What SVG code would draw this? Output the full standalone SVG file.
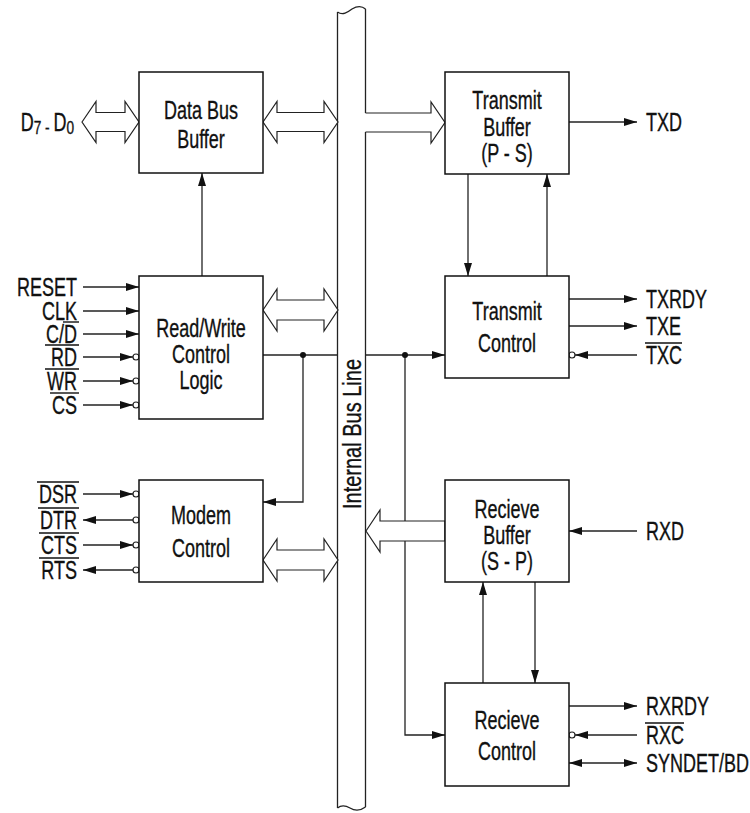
<svg xmlns="http://www.w3.org/2000/svg" width="750" height="813" viewBox="0 0 750 813">
<style>
.box{fill:#fff;stroke:#111;stroke-width:1.5}
.t{font-family:"Liberation Sans",Arial,sans-serif;font-size:25px;fill:#111;stroke:#111;stroke-width:0.35}
.m{text-anchor:middle}
.e{text-anchor:end}
.c{fill:none;stroke:#222;stroke-width:1.3}
.ol{stroke:#111;stroke-width:1.4}
.bub{fill:#fff;stroke:#222;stroke-width:1.2}
.big{fill:#fff;stroke:#222;stroke-width:1.2;stroke-linejoin:miter}
.dot{fill:#111}
</style>
<defs>
<marker id="ah" viewBox="0 0 13 8" refX="13" refY="4" markerWidth="13" markerHeight="8" markerUnits="userSpaceOnUse" orient="auto-start-reverse"><path d="M0,0 L13,4 L0,8 z" fill="#111"/></marker>
</defs>

<g id="bus">
<path d="M337.5,12 C343,16 348,12 352,9 C357,6 362,6 365.5,9" class="c"/>
<path d="M337.5,12 V808" class="c"/>
<path d="M365.5,9 V113 M365.5,132 V807" class="c"/>
<path d="M337.5,808 C341,805 345,805 350,808 C355,811 360,811 365.5,807" class="c"/>
<text class="t m" transform="translate(361,434) rotate(-90) scale(0.8,1)">Internal Bus Line</text>
</g>

<g id="connectors">
<line class="c" x1="202" y1="276" x2="202" y2="173" marker-end="url(#ah)"/>
<line class="c" x1="263" y1="355" x2="337.5" y2="355"/>
<path class="c" d="M303,355 V502 H263" marker-end="url(#ah)"/>
<line class="c" x1="365.5" y1="355" x2="445" y2="355" marker-end="url(#ah)"/>
<path class="c" d="M405,355 V735 H445" marker-end="url(#ah)"/>
<line class="c" x1="468" y1="174" x2="468" y2="276" marker-end="url(#ah)"/>
<line class="c" x1="547" y1="276" x2="547" y2="174" marker-end="url(#ah)"/>
<line class="c" x1="483" y1="683" x2="483" y2="582" marker-end="url(#ah)"/>
<line class="c" x1="535" y1="582" x2="535" y2="683" marker-end="url(#ah)"/>
<circle class="dot" cx="303" cy="355" r="3"/>
<circle class="dot" cx="405" cy="355" r="3"/>
<line class="c" x1="83" y1="287" x2="139" y2="287" marker-end="url(#ah)"/>
<line class="c" x1="83" y1="311" x2="139" y2="311" marker-end="url(#ah)"/>
<line class="c" x1="83" y1="334" x2="139" y2="334" marker-end="url(#ah)"/>
<line class="c" x1="83" y1="357" x2="133" y2="357" marker-end="url(#ah)"/>
<line class="c" x1="83" y1="381" x2="133" y2="381" marker-end="url(#ah)"/>
<line class="c" x1="83" y1="405" x2="133" y2="405" marker-end="url(#ah)"/>
<circle class="bub" cx="136" cy="357" r="3"/>
<circle class="bub" cx="136" cy="381" r="3"/>
<circle class="bub" cx="136" cy="405" r="3"/>
<line class="c" x1="83" y1="494" x2="133" y2="494" marker-end="url(#ah)"/>
<line class="c" x1="133" y1="520" x2="83" y2="520" marker-end="url(#ah)"/>
<line class="c" x1="83" y1="545" x2="133" y2="545" marker-end="url(#ah)"/>
<line class="c" x1="133" y1="570" x2="83" y2="570" marker-end="url(#ah)"/>
<circle class="bub" cx="136" cy="494" r="3"/>
<circle class="bub" cx="136" cy="520" r="3"/>
<circle class="bub" cx="136" cy="545" r="3"/>
<circle class="bub" cx="136" cy="570" r="3"/>
<line class="c" x1="569" y1="122" x2="637" y2="122" marker-end="url(#ah)"/>
<line class="c" x1="569" y1="299" x2="637" y2="299" marker-end="url(#ah)"/>
<line class="c" x1="569" y1="326" x2="637" y2="326" marker-end="url(#ah)"/>
<line class="c" x1="637" y1="355" x2="575" y2="355" marker-end="url(#ah)"/>
<circle class="bub" cx="572" cy="355" r="3"/>
<line class="c" x1="637" y1="531" x2="569" y2="531" marker-end="url(#ah)"/>
<line class="c" x1="569" y1="706" x2="637" y2="706" marker-end="url(#ah)"/>
<line class="c" x1="637" y1="735" x2="575" y2="735" marker-end="url(#ah)"/>
<circle class="bub" cx="572" cy="735" r="3"/>
<line class="c" x1="569" y1="763" x2="637" y2="763" marker-start="url(#ah)" marker-end="url(#ah)"/>
<polygon class="big" points="82,122 96,101.5 96,112.5 125,112.5 125,101.5 139,122 125,142.5 125,131.5 96,131.5 96,142.5"/>
<polygon class="big" points="263,122 277,101.5 277,112.5 324,112.5 324,101.5 338,122 324,142.5 324,131.5 277,131.5 277,142.5"/>
<polygon class="big" points="263,310 277,289 277,300 324,300 324,289 338,310 324,331 324,320 277,320 277,331"/>
<polygon class="big" points="263,560 277,539 277,550 324,550 324,539 338,560 324,581 324,570 277,570 277,581"/>
<path class="big" d="M365.5,113 H431 V102 L445,122.5 L431,143 V132 H365.5"/>
<polygon class="big" points="366,531 380,510 380,521 445,521 445,541 380,541 380,552"/>
</g>

<g id="dbb">
<rect class="box" x="139" y="72" width="124" height="101"/>
<text class="t m" transform="translate(201,119) scale(0.72,1)">Data Bus</text>
<text class="t m" transform="translate(201,148) scale(0.72,1)">Buffer</text>
</g>
<g id="rw">
<rect class="box" x="139" y="276" width="124" height="143"/>
<text class="t m" transform="translate(201,337) scale(0.72,1)">Read/Write</text>
<text class="t m" transform="translate(201,363) scale(0.72,1)">Control</text>
<text class="t m" transform="translate(201,389) scale(0.72,1)">Logic</text>
</g>
<g id="modem">
<rect class="box" x="139" y="480" width="124" height="102"/>
<text class="t m" transform="translate(201,524) scale(0.72,1)">Modem</text>
<text class="t m" transform="translate(201,557) scale(0.72,1)">Control</text>
</g>
<g id="tb">
<rect class="box" x="445" y="72" width="124" height="102"/>
<text class="t m" transform="translate(507,109) scale(0.72,1)">Transmit</text>
<text class="t m" transform="translate(507,136) scale(0.72,1)">Buffer</text>
<text class="t m" transform="translate(507,162) scale(0.72,1)">(P - S)</text>
</g>
<g id="tc">
<rect class="box" x="445" y="276" width="124" height="102"/>
<text class="t m" transform="translate(507,320) scale(0.72,1)">Transmit</text>
<text class="t m" transform="translate(507,352) scale(0.72,1)">Control</text>
</g>
<g id="rb">
<rect class="box" x="445" y="480" width="124" height="102"/>
<text class="t m" transform="translate(507,518) scale(0.72,1)">Recieve</text>
<text class="t m" transform="translate(507,544) scale(0.72,1)">Buffer</text>
<text class="t m" transform="translate(507,570) scale(0.72,1)">(S - P)</text>
</g>
<g id="rc">
<rect class="box" x="445" y="683" width="124" height="103"/>
<text class="t m" transform="translate(507,729) scale(0.72,1)">Recieve</text>
<text class="t m" transform="translate(507,760) scale(0.72,1)">Control</text>
</g>

<g id="labels">
<text class="t e" transform="translate(74,131) scale(0.72,1)">D<tspan font-size="19" dy="3">7 - </tspan><tspan dy="-3">D</tspan><tspan font-size="19" dy="3">0</tspan></text>
<text class="t e" transform="translate(77,296) scale(0.72,1)">RESET</text>
<text class="t e" transform="translate(77,320) scale(0.72,1)">CLK</text>
<text class="t e" transform="translate(77,343) scale(0.72,1)">C/D</text>
<text class="t e" transform="translate(77,366) scale(0.72,1)">RD</text>
<text class="t e" transform="translate(77,390) scale(0.72,1)">WR</text>
<text class="t e" transform="translate(77,414) scale(0.72,1)">CS</text>
<text class="t e" transform="translate(77,503) scale(0.72,1)">DSR</text>
<text class="t e" transform="translate(77,529) scale(0.72,1)">DTR</text>
<text class="t e" transform="translate(77,554) scale(0.72,1)">CTS</text>
<text class="t e" transform="translate(77,579) scale(0.72,1)">RTS</text>
<text class="t" transform="translate(646,131) scale(0.72,1)">TXD</text>
<text class="t" transform="translate(646,308) scale(0.72,1)">TXRDY</text>
<text class="t" transform="translate(646,335) scale(0.72,1)">TXE</text>
<text class="t" transform="translate(646,364) scale(0.72,1)">TXC</text>
<text class="t" transform="translate(646,540) scale(0.72,1)">RXD</text>
<text class="t" transform="translate(646,715) scale(0.72,1)">RXRDY</text>
<text class="t" transform="translate(646,744) scale(0.72,1)">RXC</text>
<text class="t" transform="translate(646,772) scale(0.72,1)">SYNDET/BD</text>
<g class="ol">
<line x1="63" y1="322" x2="79" y2="322"/>
<line x1="45" y1="345" x2="79" y2="345"/>
<line x1="45" y1="369" x2="79" y2="369"/>
<line x1="50" y1="393" x2="79" y2="393"/>
<line x1="37" y1="482" x2="79" y2="482"/>
<line x1="38" y1="508" x2="79" y2="508"/>
<line x1="39" y1="533" x2="79" y2="533"/>
<line x1="39" y1="558" x2="79" y2="558"/>
<line x1="645" y1="343" x2="682" y2="343"/>
<line x1="645" y1="723" x2="684" y2="723"/>
</g>
</g>
</svg>
